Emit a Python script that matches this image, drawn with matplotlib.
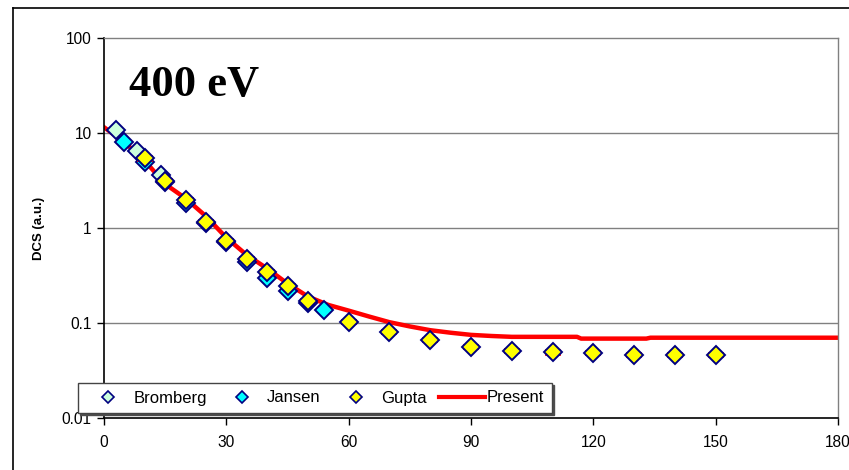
import matplotlib
matplotlib.use("Agg")
import matplotlib.pyplot as plt
from matplotlib.lines import Line2D

# ---- data ----
bromberg_x = [3, 8, 14]
bromberg_y = [10.8, 6.5, 3.6]

jansen_x = [5, 10, 15, 20, 25, 30, 35, 40, 45, 50, 54]
jansen_y = [8.1, 5.0, 3.05, 1.82, 1.12, 0.72, 0.44, 0.30, 0.215, 0.162, 0.136]

gupta_x = [10, 15, 20, 25, 30, 35, 40, 45, 50, 60, 70, 80, 90, 100, 110, 120, 130, 140, 150]
gupta_y = [5.4, 3.15, 1.97, 1.15, 0.73, 0.47, 0.345, 0.247, 0.172, 0.102,
           0.080, 0.066, 0.056, 0.051, 0.049, 0.048, 0.046, 0.046, 0.046]
gupta_err = [0.27, 0.16, 0.10, 0.058, 0.037, 0.024, 0.017, 0.012, 0.0086, 0.0051,
             0.0040, 0.0033, 0.0028, 0.0026, 0.0025, 0.0024, 0.0023, 0.0023, 0.0023]

present_x = [0, 5, 10, 15, 20, 25, 30, 35, 40, 45, 50, 55, 60, 65, 70, 75, 80, 85,
             90, 95, 100, 110, 116, 117, 133, 134, 150, 180]
present_y = [11.5, 8.0, 5.1, 2.9, 2.05, 1.33, 0.79, 0.52, 0.375, 0.26, 0.19, 0.155,
             0.135, 0.117, 0.102, 0.092, 0.084, 0.079, 0.075, 0.073, 0.0715, 0.0715,
             0.0715, 0.0685, 0.0685, 0.0700, 0.0700, 0.0700]

x_ticks = [0, 30, 60, 90, 120, 150, 180]
y_ticks = [0.01, 0.1, 1, 10, 100]
y_ticklabels = ["0.01", "0.1", "1", "10", "100"]

plt.rcParams['font.family'] = ['Liberation Sans', 'DejaVu Sans']

W, H = 849, 470
fig = plt.figure(figsize=(W / 100, H / 100), dpi=100)
ax = fig.add_axes([104 / W, 1 - 418 / H, (838 - 104) / W, (418 - 38) / H])

ax.set_yscale('log')
ax.set_xlim(0, 180)
ax.set_ylim(0.01, 100)

for v in [0.1, 1, 10]:
    ax.axhline(v, color='#808080', lw=1.0, zorder=1)

ax.plot(present_x, present_y, color='#ff0000', lw=3.2, zorder=2, solid_joinstyle='round')

navy = '#000080'
ax.plot(bromberg_x, bromberg_y, linestyle='none', marker='D', ms=9.5,
        mfc='#ccffdd', mec=navy, mew=1.4, zorder=3)
ax.plot(jansen_x, jansen_y, linestyle='none', marker='D', ms=9.5,
        mfc='#00ffff', mec=navy, mew=1.4, zorder=4)
ax.errorbar(gupta_x, gupta_y, yerr=gupta_err, fmt='none', ecolor='#ff0000',
            elinewidth=1, capsize=6, capthick=1.2, zorder=4.5)
ax.plot(gupta_x, gupta_y, linestyle='none', marker='D', ms=9.5,
        mfc='#ffff00', mec=navy, mew=1.4, zorder=5)

ax.set_xticks(x_ticks)
ax.set_xticklabels([str(t) for t in x_ticks])
ax.set_yticks(y_ticks)
ax.set_yticklabels(y_ticklabels)
ax.yaxis.set_minor_locator(matplotlib.ticker.NullLocator())
ax.tick_params(axis='both', direction='out', length=5, width=1, labelsize=11.2,
               colors='black', pad=4)
ax.tick_params(axis='x', pad=7)

for s in ['left', 'bottom']:
    ax.spines[s].set_color('black')
    ax.spines[s].set_linewidth(1.2)
for s in ['top', 'right']:
    ax.spines[s].set_color('#808080')
    ax.spines[s].set_linewidth(1.0)

ax.set_ylabel('DCS (a.u.)', fontsize=9.5, fontweight='bold')
ax.yaxis.set_label_coords(-0.080, 0.5)

fig.text(194 / W, 1 - 85 / H, '400 eV', family=['Liberation Serif', 'DejaVu Serif'],
         fontweight='bold', fontsize=32, ha='center', va='center')

# figure frame
fig.add_artist(Line2D([13 / W, 13 / W], [0, 1 - 8 / H], transform=fig.transFigure,
                      color='black', lw=1.2))
fig.add_artist(Line2D([13 / W, 1], [1 - 8 / H, 1 - 8 / H], transform=fig.transFigure,
                      color='black', lw=1.2))

handles = [
    Line2D([], [], linestyle='none', marker='D', ms=6, mfc='#ccffdd', mec=navy, mew=1.2),
    Line2D([], [], linestyle='none', marker='D', ms=6, mfc='#00ffff', mec=navy, mew=1.2),
    Line2D([], [], linestyle='none', marker='D', ms=6, mfc='#ffff00', mec=navy, mew=1.2),
    Line2D([], [], color='#ff0000', lw=3),
]
leg = fig.legend(handles, ['Bromberg', 'Jansen', 'Gupta', 'Present'], ncol=4,
                 loc='lower left', bbox_to_anchor=(78 / W, 1 - 413 / H),
                 frameon=True, fancybox=False,
                 shadow={'color': '0.3', 'alpha': 1, 'ox': 1.5, 'oy': -1.5},
                 edgecolor='#444444', fontsize=12, handlelength=2.75,
                 handletextpad=0.12, columnspacing=0.75, borderpad=0.45,
                 borderaxespad=0)
leg.get_frame().set_linewidth(1.0)
leg.set_zorder(10)

fig.savefig('out.png', dpi=100)
